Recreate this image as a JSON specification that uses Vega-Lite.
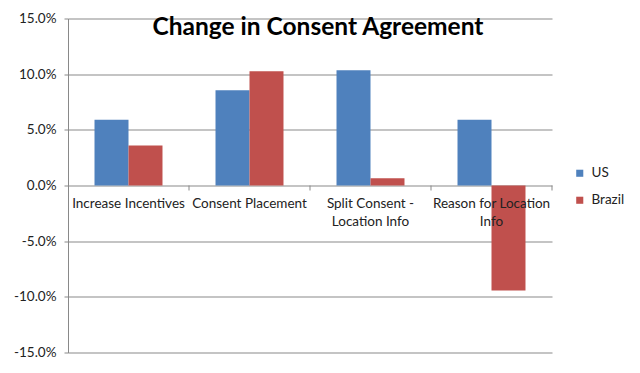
{
  "$schema": "https://vega.github.io/schema/vega-lite/v6.json",
  "width": 484,
  "height": 334,
  "autosize": {"type": "none"},
  "padding": {"left": 68, "top": 18.5, "right": 88, "bottom": 20.5},
  "background": "white",
  "config": {"view": {"stroke": null}, "font": "Lato"},
  "title": {
    "text": "Change in Consent Agreement",
    "font": "Lato",
    "fontSize": 24.5,
    "fontWeight": "bold",
    "color": "#000000",
    "anchor": "middle",
    "baseline": "alphabetic",
    "offset": -18,
    "dx": 8,
    "dy": 30
  },
  "datasets": {
    "bars": [
      {"category": "Increase Incentives", "country": "US", "change": 0.059},
      {"category": "Increase Incentives", "country": "Brazil", "change": 0.036},
      {"category": "Consent Placement", "country": "US", "change": 0.0855},
      {"category": "Consent Placement", "country": "Brazil", "change": 0.1027},
      {"category": "Split Consent - Location Info", "country": "US", "change": 0.1035},
      {"category": "Split Consent - Location Info", "country": "Brazil", "change": 0.0066},
      {"category": "Reason for Location Info", "country": "US", "change": 0.059},
      {"category": "Reason for Location Info", "country": "Brazil", "change": -0.0943}
    ],
    "cats": [
      {"category": "Increase Incentives", "label": ["Increase Incentives"]},
      {"category": "Consent Placement", "label": ["Consent Placement"]},
      {"category": "Split Consent - Location Info", "label": ["Split Consent -", "Location Info"]},
      {"category": "Reason for Location Info", "label": ["Reason for Location", "Info"]}
    ]
  },
  "layer": [
    {
      "data": {"name": "bars"},
      "mark": {"type": "bar"},
      "encoding": {
        "x": {
          "field": "category",
          "type": "nominal",
          "sort": ["Increase Incentives", "Consent Placement", "Split Consent - Location Info", "Reason for Location Info"],
          "scale": {"paddingInner": 0, "paddingOuter": 0},
          "axis": null
        },
        "xOffset": {
          "field": "country",
          "type": "nominal",
          "sort": ["US", "Brazil"],
          "scale": {"paddingInner": 0, "paddingOuter": 0.78}
        },
        "y": {
          "field": "change",
          "type": "quantitative",
          "scale": {"domain": [-0.15, 0.15], "nice": false},
          "axis": {
            "title": null,
            "values": [-0.15, -0.1, -0.05, 0, 0.05, 0.1, 0.15],
            "labelExpr": "replace(format(datum.value, '.1%'), '\u2212', '-')",
            "labelFontSize": 13.5,
            "labelColor": "#222222",
            "labelPadding": 8,
            "tickSize": 4,
            "tickColor": "#898989",
            "domainColor": "#898989",
            "gridColor": "#898989",
            "gridOpacity": 1
          }
        },
        "color": {
          "field": "country",
          "type": "nominal",
          "scale": {"domain": ["US", "Brazil"], "range": ["#4F81BD", "#C0504D"]},
          "legend": {
            "title": null,
            "orient": "none",
            "legendX": 505,
            "legendY": 148,
            "symbolType": "square",
            "symbolSize": 50,
            "symbolStrokeWidth": 0,
            "labelFontSize": 13.5,
            "labelColor": "#222222",
            "rowPadding": 12,
            "labelOffset": 5
          }
        }
      }
    },
    {
      "data": {"name": "cats"},
      "mark": {"type": "rule", "color": "#898989", "strokeWidth": 1},
      "encoding": {
        "x": {
          "field": "category",
          "type": "nominal",
          "sort": ["Increase Incentives", "Consent Placement", "Split Consent - Location Info", "Reason for Location Info"],
          "bandPosition": 1
        },
        "y": {"datum": 0},
        "y2": {"datum": -0.0045}
      }
    },
    {
      "data": {"name": "cats"},
      "mark": {"type": "text", "baseline": "top", "dy": 11.5, "fontSize": 13.5, "lineHeight": 17.5, "color": "#222222"},
      "encoding": {
        "x": {
          "field": "category",
          "type": "nominal",
          "sort": ["Increase Incentives", "Consent Placement", "Split Consent - Location Info", "Reason for Location Info"],
          "bandPosition": 0.5
        },
        "y": {"datum": 0},
        "text": {"field": "label"}
      }
    }
  ]
}
